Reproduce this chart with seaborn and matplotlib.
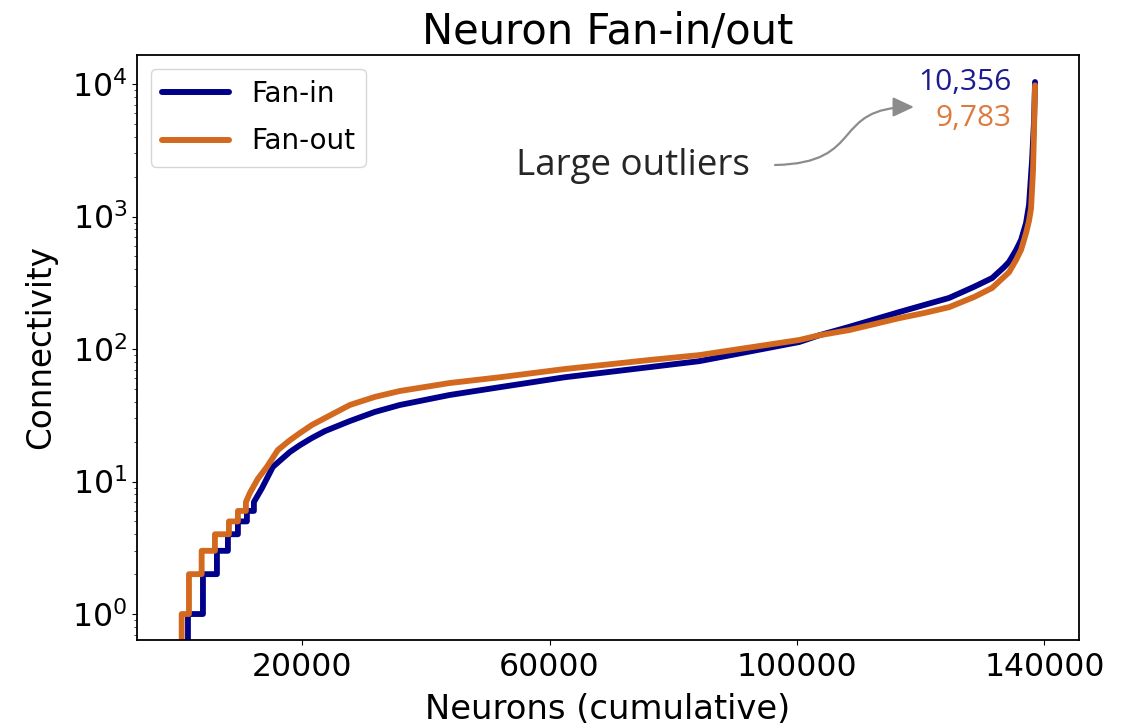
import matplotlib
matplotlib.use("Agg")
import matplotlib.pyplot as plt
import seaborn as sns
import pandas as pd
from matplotlib.patches import FancyArrowPatch
from matplotlib.path import Path

# ---------------- data ----------------
series_names = ["Fan-in", "Fan-out"]
step_values = [0, 1, 2, 3, 4, 5, 6, 7]
fanin_step_rank = [0, 1540, 3963, 6224, 7999, 9616, 11069, 12200]
fanout_step_rank = [0, 523, 1702, 3753, 5901, 8162, 9616, 10908]

fanin_rank = [13492, 15268, 16720, 18014, 19629, 21567, 23666, 27704, 31741, 35779,
              43854, 51929, 62427, 76154, 84229, 100379, 103609, 108454,
              116529, 120566, 124604, 128641, 131548, 133487, 134294, 135424,
              136231, 137039, 137523, 138008, 138331, 138492]
fanin_conn = [8.9, 12.9, 14.8, 16.7, 18.8, 21.3, 24, 28.6, 33.5, 37.8,
              45, 51.5, 61.2, 73, 81, 113, 127, 147,
              190, 215, 243, 295, 343, 415, 455, 558,
              665, 893, 1230, 2650, 5300, 10356]

fanout_rank = [11554, 12846, 14300, 16075, 18014, 19629, 21567, 23666, 27704,
               31741, 35779, 43854, 51929, 62427, 76154, 84229, 100379,
               103609, 108454, 116529, 120566, 124604, 128641, 131548, 134294,
               135424, 136231, 137039, 137523, 137846, 138169, 138331, 138492]
fanout_conn = [8.2, 10.5, 12.9, 17.3, 20.5, 23.2, 26.7, 30.1, 37.8,
               43.5, 48.2, 55.4, 61.2, 70.6, 82.6, 90, 117,
               127, 139, 171, 187, 207, 247, 289, 380,
               470, 560, 750, 930, 1150, 2240, 4500, 9783]

x_ticks = [20000, 60000, 100000, 140000]
colors = {"Fan-in": "#00008B", "Fan-out": "#D2691E"}
label_colors = {"Fan-in": "#1C1C8F", "Fan-out": "#DD7A3C"}


def build(step_rank, rank, conn):
    xs, ys = [], []
    for i, v in enumerate(step_values):
        xs.append(step_rank[i]); ys.append(v)
        if i + 1 < len(step_values):
            xs.append(step_rank[i + 1]); ys.append(v)
    return xs + list(rank), ys + list(conn)


frames = []
for name, sr, r, c in [("Fan-in", fanin_step_rank, fanin_rank, fanin_conn),
                       ("Fan-out", fanout_step_rank, fanout_rank, fanout_conn)]:
    xs, ys = build(sr, r, c)
    frames.append(pd.DataFrame({"rank": xs, "conn": ys, "series": name}))
df = pd.concat(frames, ignore_index=True)

# ---------------- plot ----------------
sns.set_style("ticks")
plt.rcParams["font.family"] = ["DejaVu Sans"]
plt.rcParams["text.color"] = "black"
plt.rcParams["axes.labelcolor"] = "black"

fig = plt.figure(figsize=(11.34, 7.25), dpi=100)
ax = fig.add_axes([137 / 1134, 1 - 640 / 725, (1079 - 137) / 1134, (640 - 55) / 725])

sns.lineplot(data=df, x="rank", y="conn", hue="series", hue_order=series_names,
             palette=colors, sort=False, estimator=None, linewidth=4.2, ax=ax)
ax.set_yscale("log", nonpositive="clip")
ax.set_xlim(-6700, 145600)
ax.set_ylim(10 ** -0.196, 10 ** 4.219)
ax.set_xticks(x_ticks)
ax.set_xticklabels([str(t) for t in x_ticks])
ax.tick_params(axis="both", labelsize=22.7, colors="black")
ax.tick_params(axis="x", pad=5)
for s in ax.spines.values():
    s.set_color("black")
    s.set_linewidth(1.3)

ax.set_title("Neuron Fan-in/out", fontsize=30, pad=8, color="black")
ax.set_xlabel("Neurons (cumulative)", fontsize=24.3, labelpad=7)
ax.set_ylabel("Connectivity", fontsize=23.5, labelpad=11)

handles, labels = ax.get_legend_handles_labels()
leg = ax.legend(handles, labels, loc="upper left", fontsize=20, handlelength=2.4,
                frameon=True, borderaxespad=0.5, labelspacing=0.7)
for ln in leg.get_lines():
    ln.set_linewidth(4.3)

# max labels
ax.annotate(f"{max(fanin_conn):,}", xy=(fanin_rank[-1], max(fanin_conn)),
            xytext=(-17, 0), textcoords="offset points", ha="right", va="center",
            fontsize=21.5, color=label_colors["Fan-in"], family=["Open Sans", "DejaVu Sans"])
ax.annotate(f"{max(fanout_conn):,}", xy=(fanout_rank[-1], max(fanout_conn)),
            xytext=(-17, -24), textcoords="offset points", ha="right", va="center",
            fontsize=21.5, color=label_colors["Fan-out"], family=["Open Sans", "DejaVu Sans"])

# outlier annotation
ax.text(0.5265, 0.8100, "Large outliers", transform=ax.transAxes, ha="center", va="center",
        fontsize=26.5, color="#262626", family=["Open Sans", "DejaVu Sans"])
p0 = (0.6773, 0.8120)
p1 = (0.7750, 0.8150)
p2 = (0.7350, 0.9111)
p3 = (0.8248, 0.9111)
arrow_path = Path([p0, p1, p2, p3], [Path.MOVETO, Path.CURVE4, Path.CURVE4, Path.CURVE4])
arrow = FancyArrowPatch(path=arrow_path, arrowstyle="-|>,head_length=0.75,head_width=0.35",
                        mutation_scale=17, color="#8C8C8C", lw=1.6, transform=ax.transAxes)
ax.add_patch(arrow)

fig.savefig("out.png", dpi=100)
